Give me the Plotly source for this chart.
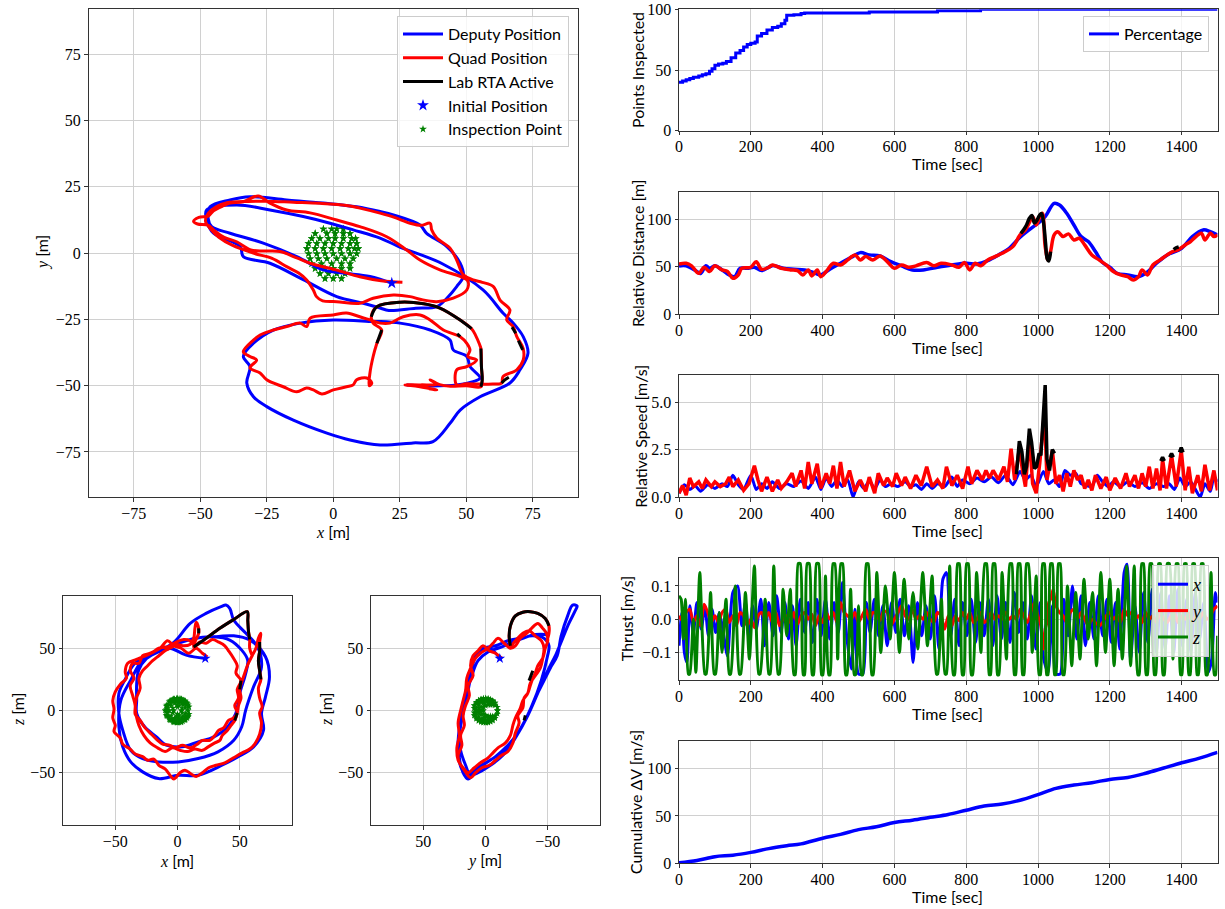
import plotly.graph_objects as go

# ---------------- x-y trajectories (main panel) ----------------
deputy_xy = [(22,-11.3),(13.8,-8.8),(3.8,-7.5),(-3.8,-6.3),(-13.7,-1.3),(-26.3,3.8),(-38.8,7.5),(-45.7,10),(-47,13),
    (-46.3,17.5),(-38.8,20.1),(-31.3,21.3),(-17.5,20.1),(-3.8,18.9),(8.8,17.5),(17.6,15.7),(22.6,14.4),(32.6,10.6),
    (35.1,7.5),(42.7,2.5),(47.7,-3.8),(48.9,-8.8),(46.4,-12.6),(42.7,-17),(38.9,-20.2),(31,-20.8),(20.9,-21.6),
    (17.6,-20.7),(11.3,-18.9),(1.3,-16.4),(-11.3,-10),(-23.8,-3.8),(-33.8,-1.3),(-35,2.5),(-45,7.5),(-47.6,12.5),
    (-47.6,16.3),(-36.3,18.2),(-23.8,16.3),(-11.3,13.8),(-1.2,11.3),(7.5,8.8),(17.6,5.7),(25,2.3),(41,-4),
    (56.3,-13.9),(63.8,-22.6),(67.6,-26.3),(71.4,-31.5),(73.2,-37.7),(70.2,-44),(66.4,-49),(55.2,-54.2),
    (47.7,-59.2),(43.9,-64.2),(37.5,-71.1),(30,-71.6),(17.6,-72.4),(6.3,-70.5),(-2.4,-67.9),(-15,-63),
    (-25,-57.9),(-30,-54.2),(-32.5,-49),(-31.3,-42.8),(-33.8,-39),(-30,-34),(-22.5,-29),(-12.5,-26.4),
    (0,-25.2),(15,-25.8),(17.6,-25.8),(25.1,-26.4),(36.4,-29),(43.9,-32.8),(45.1,-36.5),(50.2,-39),
    (51.4,-42.8),(55.2,-47.1),(52.6,-48.5),(46.4,-49.7),(37.5,-50.1),(27.6,-49.7)]

quad_xy = [(26,-11),(18,-10.4),(10,-8.9),(1,-6.3),(-8.7,-3.8),(-13.7,-1.8),(-20,0.6),(-26,0.8),(-31,1.2),
    (-36.3,4.3),(-41,6),(-45,8.8),(-47,10.5),(-51,11),(-52.5,12),(-50.5,13.5),(-47,14),(-45,16),(-41,18),
    (-38.8,18.9),(-33.8,19.4),(-28.2,21.6),(-23.8,18.9),(-17.5,16.3),(-8.7,15.2),(1.3,12.5),(10,10),(20.1,6.2),
    (27.6,1.2),(32.6,-2.6),(40.1,-6.3),(47.7,-8.8),(50.6,-10.5),(50.2,-13.9),(45.1,-17),(38.9,-18.3),(33,-17.5),
    (28.9,-16.4),(22.6,-15.8),(15,-17),(10,-18.9),(1.3,-18.3),(-4,-18),(-6.3,-16.4),(-7.5,-13.9),(-10,-10.1),
    (-13,-7.5),(-17.5,-5.1),(-23,-2),(-30,0),(-38,3),(-43,6),(-46,9),(-48,12),(-47,15),(-44,17.5),(-40,19),
    (-32,19.5),(-25,19.6),(-15,19.2),(-5,18.8),(5,18),(10,17),(17.6,15.1),(23,13.5),(28.9,11.3),(33,10.5),
    (36.4,11.3),(37,8.8),(38.9,5.7),(43.9,1.9),(46.4,-2.6),(48.9,-8.2),(52.6,-10.1),(56,-11),(60.2,-12.6),
    (62.7,-17.7),(66.4,-21.4),(65.2,-25.2),(67.6,-27.7),(69,-31.5),(71.4,-36),(71.4,-40.3),(69,-44),
    (63.8,-46.6),(63.3,-49),(60,-49.4),(55.2,-49.4),(50,-49.3),(46.4,-49.7),(46.4,-44),(50.2,-42.8),
    (53.9,-40.3),(50.6,-39),(51.4,-36.5),(50.2,-34),(47.7,-31.5),(41.4,-29),(36.4,-25.2),(32.6,-23.3),
    (26.3,-24),(21.3,-26.4),(17.6,-26.4),(13.8,-25.2),(10,-24),(5,-22.6),(0,-23.3),(-8.7,-24.5),(-10,-27.7),
    (-12.5,-26.4),(-17.5,-27.7),(-22.5,-29),(-27.5,-30.9),(-30,-32.8),(-33.8,-37.2),(-31.3,-39),(-28.8,-40.3),
    (-31.3,-43.3),(-27.5,-45.2),(-25,-47.8),(-18.8,-50.4),(-13.7,-52.3),(-10,-50.9),(-7.5,-51.6),(-4.3,-53.1),
    (0,-51.6),(5,-50.4),(7.5,-49.7),(8.8,-47.8),(12.6,-47.1),(14.5,-49),(13.5,-50),(13.8,-45.2),(15,-39),
    (16.4,-34),(18.2,-29),(15,-26.4),(14.3,-24),(16.4,-20.2),(25.1,-18.5),(34,-19.1),(40.1,-20.7),(47.7,-25.2),
    (52,-28.5),(53.5,-31),(54.9,-34.2),(55.5,-36),(55.7,-42.8),(56,-47.8),(55.5,-50.4),(50,-50),(44,-50.2),
    (40,-49.6),(36.4,-47.8),(39,-49.5),(33,-49.7),(27,-49.7),(30,-50),(38.9,-51.6),(36,-51.2)]

rta_xy = [(16.4,-34),(18.2,-29),None,(14.3,-24),(16.4,-20.2),(25.1,-18.5),(34,-19.1),(40.1,-20.7),(47.7,-25.2),
    (52,-28.5),None,(55.5,-36),(55.7,-42.8),(56,-47.8),(55.5,-50.4),None,(67.2,-27.9),(68.6,-30.2),None,
    (69.6,-33),(71.2,-36.5),None,(63.3,-49),(64.5,-47.8),(66,-46.8),None,(47.7,-31.5),(46.6,-30.4)]

# ---------------- x-z and y-z projections ----------------
deputy_xz = [(22.3,41.8),(7,44.5),(-5.7,49.9),(-15.3,47.2),(-24.8,41.8),(-31.2,32.4),(-32.8,21.7),(-32.8,8.3),
    (-32.8,-2.4),(-26.4,-13.1),(-16.9,-21.2),(-8.9,-27.9),(3.8,-29.2),(16.6,-25.2),(29.3,-21.2),(40.4,-13.1),
    (46.8,-2.4),(50,13.7),(54.8,29.8),(56.4,40.5),(51.6,48.5),(42,56.6),(29.3,59.2),(13.4,57.9),(0.6,53.9),
    (-12.1,49.9),(-24.8,43.2),(-34.4,37.8),(-42.4,24.4),(-47.1,13.7),(-47.1,-2.4),(-44,-15.8),(-37.6,-31.9),
    (-28,-38.6),(-15.3,-41.3),(0.6,-41.3),(16.6,-38.6),(32.5,-33.2),(45.2,-23.9),(51.6,-13.1),(54.8,0.3),
    (61.1,19),(67.5,35.1),(64.3,51.2),(55,62),(45.2,72.7),(42,82),(38.9,84.7),(35,83.4),(22.9,78),(10.2,70),
    (-2.5,55.2),(-15.3,47.2),(-28,40.5),(-37.6,24.4),(-45.5,8.3),(-47.1,-13.1),(-44,-29.2),(-37.6,-41.3),
    (-28,-49.3),(-15.3,-54.7),(0.6,-52),(16.6,-52),(35.7,-44),(48.4,-37.3),(61.1,-29.2),(69.1,-15.8),
    (67.5,-2.4),(70.7,11),(73.9,27.1),(70.7,43.2),(58,56.6),(45.2,60),(29,59)]

quad_xz = [(24,43),(20,46),(15,50),(9,46),(3,50),(-3,52),(-8,56),(-14,50),(-22,46),(-28,44),(-31,38),(-36,38),
    (-38,32),(-35,26),(-38,20),(-36,12),(-34,4),(-34,-3),(-30,-8),(-26,-14),(-21,-19),(-16,-24),(-12,-27),
    (-6,-28),(-2,-30),(4,-28),(10,-30),(16,-27),(20,-24),(26,-24),(30,-20),(33,-16),(37,-14),(41,-8),(45,-6),
    (48,-2),(46,4),(49,10),(48,17),(51,24),(47,30),(48,36),(45,42),(41,48),(38,52),(33,55),(28,57),(23,54),
    (18,55),(14,52),(10,56),(5,57),(-1,55),(-8,51),(-15,50),(-21,46),(-28,43),(-33,41),(-40,38),(-42,31),
    (-41,26),(-46,21),(-50,15),(-52,8),(-51,1),(-52,-6),(-50,-12),(-51,-17),(-46,-22),(-44,-27),(-38,-31),
    (-34,-35),(-28,-37),(-24,-40),(-19,-39),(-15,-44),(-10,-47),(-6,-52),(-3,-55),(2,-50),(6,-48),(11,-51),
    (15,-53),(20,-50),(25,-46),(31,-44),(38,-42),(45,-38),(52,-34),(58,-31),(62,-27),(66,-19),(67.5,-10),
    (66,-2),(68,3),(66,10),(65,18),(67,25),(66,32),(65,40),(66,48),(66,55),(67,62),(65,58),(63,50),(60,44),
    (57,38),(54,30),(52,24),(50,17),(51,10),(49,4),(48,-2),(46,-8),(43,-12),(40,-16),(36,-20),(34,-24),
    (30,-26),(25,-29),(20,-32),(14,-31),(8,-33),(2,-32),(-4,-30),(-10,-33),(-16,-30),(-22,-26),(-27,-20),
    (-31,-12),(-33,-5),(-34,2),(-33,10),(-30,18),(-31,26),(-28,32),(-24,36),(-20,40),(-15,44),(-10,48),
    (-6,50),(0,53),(5,52),(10,53),(13,58),(14,66),(15,71),(17,66),(17,62),(14,55),(13,51),(23,58),(34,66),
    (45,73),(56,79.4),(56.5,72),(57,64),(58,57),(58,50),(60,44)]

rta_xz = [(17,66),(17,62),None,(13,51),(23,58),(34,66),(45,73),(56,79.4),(56.5,72),(57,64),(58,57),None,
    (66,55),(66,48),(65,40),(66,32),(67,25),None,(51,24),(50,17),None,(48,-2),(46,-8)]

deputy_yz = [(-11.5,41.8),(-3.5,49.9),(2.9,48.5),(9.2,40.5),(12.4,24.4),(15.6,8.3),(20.4,-10.5),(22,-34.6),
    (18.8,-48),(14,-54.7),(9.2,-48),(-3.5,-40),(-16.2,-31.9),(-29,-13.1),(-36.9,2.9),(-44.9,24.4),(-49.7,43.2),
    (-51,52),(-47,58),(-38,60),(-28,58),(-18,56),(-8,52),(2,50),(8,44),(12,30),(16,14),(19,-2),(21,-18),
    (20,-32),(16,-44),(12,-52),(6,-50),(-4,-44),(-14,-36),(-24,-22),(-34,-4),(-42,14),(-50,32),(-57,46),
    (-62,58),(-67,70),(-72,80),(-73.6,84),(-70,84.7),(-66,76),(-60.8,60),(-57.6,44),(-52,34),(-46,22),
    (-40,10),(-33,-6),(-26,-18),(-18,-28),(-8,-37),(2,-44),(10,-52),(14,-55),(18,-50),(21,-38),(21,-20),
    (18,-2),(15,14),(11,28),(6,40),(-2,47),(-10,50),(-20,54),(-30,58),(-40,61),(-48,61),(-50,60)]

quad_yz = [(-13,42),(-8,46),(-3,48),(2,52),(6,48),(10,44),(12,36),(10,28),(14,20),(13,12),(16,4),(18,-4),
    (17,-12),(20,-20),(19,-28),(22,-36),(21,-42),(17,-48),(12,-54),(8,-50),(3,-46),(-3,-44),(-8,-40),
    (-13,-36),(-18,-33),(-22,-26),(-24,-18),(-27,-10),(-26,-4),(-30,2),(-31,10),(-34,14),(-36,20),(-38,26),
    (-40,30),(-42,36),(-46,42),(-48,50),(-50,56),(-49,62),(-46,66),(-42,70),(-37,66),(-33,62),(-28,58),
    (-24,52),(-20,50),(-15,54),(-10,58),(-6,54),(-2,50),(4,46),(8,42),(12,34),(15,26),(16,16),(18,8),(20,0),
    (22,-10),(21,-20),(23,-30),(22,-40),(18,-46),(14,-50),(9,-46),(4,-42),(-2,-38),(-6,-34),(-10,-30),
    (-16,-26),(-20,-20),(-22,-12),(-24,-6),(-28,2),(-30,8),(-34,14),(-36,22),(-40,28),(-44,34),(-46,42),
    (-47,50),(-45,56),(-40,60),(-35,64),(-30,62),(-24,56),(-20,52),(-19,60),(-20,68),(-24,76),(-30,79),
    (-36,79.4),(-42,78),(-48,74),(-51,68),(-51,62),(-49,55)]

rta_yz = [(-20,52),(-19,60),(-20,68),(-24,76),(-30,79),(-36,79.4),(-42,78),(-48,74),(-51,68),None,
    (-35,24),(-38,32),None,(-31,-8),(-32,-4)]

initial_xy = (22, -11.3)
initial_xz = (22.3, 41.8)
initial_yz = (-11.5, 41.8)

# inspection points (x, y, |z|)
insp_pts = [(-3.7,9.1,1.9),(-0.6,9.1,4.1),(1.3,9.1,3.9),(3.8,9.1,1.7),
    (-6.8,7.4,0),(-2.4,7.4,6.3),(0.7,7.4,6.7),(3.8,7.4,5.5),(6.3,7.4,2.3),
    (-8.1,5.5,2.1),(-5,5.5,6.7),(-1.8,5.5,8.2),(0.7,5.5,8.3),(3.8,5.5,7.5),(6.9,5.5,4.7),(8.4,5.5,0),
    (-9.3,3.6,0.7),(-6.2,3.6,7),(-3.1,3.6,8.8),(0,3.6,9.3),(3.1,3.6,8.8),(6.3,3.6,6.9),(8.8,3.6,3.1),
    (-9.9,1.7,0),(-6.8,1.7,7.1),(-3.7,1.7,9.1),(-0.6,1.7,9.8),(2.6,1.7,9.5),(5.7,1.7,8),(8,1.7,5.8),(9.4,1.7,2.9),
    (-9.3,-0.2,3.7),(-6.2,-0.2,7.8),(-3.1,-0.2,9.5),(0,-0.2,10),(3.1,-0.2,9.5),(6.3,-0.2,7.8),(8.8,-0.2,4.8),
    (-8.7,-2.1,4.5),(-5.6,-2.1,8),(-2.4,-2.1,9.5),(1.3,-2.1,9.7),(4.4,-2.1,8.7),(7.5,-2.1,6.3),
    (-8.1,-4,4.3),(-4.4,-4,8),(-0.6,-4,9.1),(3.1,-4,8.6),(6.3,-4,6.7),
    (-6.8,-5.8,4.5),(-3.1,-5.8,7.5),(0,-5.8,8.1),(3.1,-5.8,7.5),(6.3,-5.8,5.2),
    (-5,-7.7,4),(-1.8,-7.7,6.1),(1.3,-7.7,6.2),(4.4,-7.7,4.6),
    (-3.1,-9.6,0),(0,-9.6,2.8),(3.1,-9.6,0)]

# ---------------- time histories ----------------
pct_t = [0,10,20,30,40,55,65,75,85,92,100,110,122,132,145,158,170,180,190,200,212,218,230,245,260,275,285,295,300,320,340,350,530,720,840,1500]
pct_v = [40,41,42,43,44,45,46,47,49,51,54,55,55.5,57,60,64,66,69,71,72,73,78,80,83,85,86,88,91,95,95.5,96.5,97,97.8,98.9,100,100]

dep_dist_t = [0,20,50,60,75,85,100,120,140,155,170,190,210,230,260,290,320,350,380,395,420,450,480,505,530,560,590,620,650,680,720,760,800,830,860,890,920,950,975,1000,1020,1045,1060,1080,1100,1120,1140,1160,1180,1200,1220,1250,1280,1300,1330,1360,1400,1430,1460,1480,1500]
dep_dist_v = [50.9,51,45,43,51,48.4,51,46.7,41.4,39.6,48.4,48.4,49.5,46,51.2,48.4,47.4,46.7,43.2,41.4,47.4,53.7,60,64.9,62.5,61.4,55.4,50.9,46.7,46.7,49.5,51.9,53.7,53,56.5,62.5,69.5,81,88.8,95.8,102.8,116.8,115,106.3,94,81.8,76.5,66,54.4,49.5,43.2,41.4,39.6,43.2,53.7,62.5,69.5,81.8,88.8,87,83.5]

quad_dist_t = [0,20,35,55,70,85,100,120,135,150,165,175,200,215,230,250,260,285,310,330,345,360,370,385,395,410,430,450,470,490,505,520,540,560,580,600,620,640,660,690,710,730,760,780,795,810,825,840,860,880,900,930,950,965,975,985,995,1005,1012,1020,1028,1035,1045,1055,1070,1085,1100,1115,1130,1150,1170,1190,1210,1230,1250,1265,1280,1290,1305,1320,1340,1360,1375,1390,1410,1425,1440,1455,1465,1480,1490,1500]
quad_dist_v = [53,53.7,51,43.2,49.5,45,51,46.7,45,37.9,41.4,48.4,49.5,55.4,47.4,49.5,51.9,48.4,46.7,46,41.4,46.7,40.4,46.7,39.6,45,53.7,51.9,57.2,62.5,57.2,60.7,57.2,61.4,55.4,48.4,51.9,49.5,51,54.4,51,53.7,51.9,49.5,54.4,46.7,53.7,51,57.2,60.7,64.2,71.2,83.5,88.8,95.8,102.8,94,102.8,106.3,71,57.2,66,83.5,86.8,81.8,84.6,78.2,80,73,62.5,57.2,51.9,45,41.4,39.6,36.1,39.6,46.7,41.4,51.9,57.2,62.5,66,67.7,73,76.5,81.8,85.3,78.2,85.3,81.8,83.5]

rta_dist_t = [952,960,968,976,983,990,997,1004,1010,1016,1021,1026,1030,1035,None,1378,1385,1392]
rta_dist_v = [85,89,94,101,104,96,99,104,106,95,75,58,56,66,None,68,70,71]

dep_spd_t = [0,15,30,45,60,80,100,120,135,150,165,180,200,215,230,245,260,280,300,320,340,360,380,395,410,425,440,455,470,485,500,515,530,545,560,575,590,610,630,645,660,675,690,705,720,740,760,775,790,810,830,850,870,890,910,930,950,965,980,995,1015,1030,1045,1060,1075,1090,1105,1120,1135,1150,1165,1180,1195,1210,1230,1250,1270,1290,1310,1330,1350,1365,1380,1395,1410,1425,1440,1452,1465,1480,1490,1500]
dep_spd_v = [0.2,0.65,0.4,0.6,0.3,0.65,0.45,0.7,0.55,1.15,0.65,0.4,1.15,0.4,0.7,0.45,0.8,0.45,0.7,0.55,0.85,0.45,1.05,0.4,1.0,0.55,0.9,0.55,0.9,0.0,0.8,0.45,0.85,0.45,0.9,0.55,0.7,0.55,0.8,0.55,0.65,0.4,0.7,0.45,0.7,0.55,1.05,0.55,0.9,0.7,1.0,0.8,1.05,0.75,1.15,0.65,1.35,0.9,1.15,0.55,1.35,0.7,0.9,0.55,1.4,1.15,1.25,0.7,0.6,0.55,1.15,0.8,0.55,0.8,0.55,0.8,0.55,0.75,0.45,0.7,0.55,0.7,0.4,1.0,0.55,0.8,0.35,0.0,0.7,0.3,1.05,0.8]

quad_spd_t = [0,10,20,30,40,55,65,75,90,100,115,130,140,150,165,180,195,210,220,230,245,260,275,285,300,315,325,340,350,360,370,385,395,410,420,430,440,450,460,475,490,505,520,530,545,555,570,580,595,605,620,630,645,660,675,690,705,720,735,745,760,775,790,805,815,830,845,855,865,875,890,905,915,925,935,948,958,965,976,985,995,1005,1018,1025,1040,1050,1060,1070,1080,1090,1100,1110,1120,1130,1140,1150,1160,1175,1190,1200,1215,1230,1245,1255,1270,1280,1290,1300,1310,1320,1330,1340,1347,1358,1372,1385,1399,1410,1420,1430,1445,1455,1465,1478,1490,1500]
quad_spd_v = [0.2,0.6,0.1,1.0,0.55,0.8,0.45,0.9,0.55,0.8,0.55,0.7,1.05,0.55,0.9,0.35,0.7,1.65,0.9,0.3,1.05,0.3,0.9,0.45,0.8,1.25,0.55,1.4,0.45,1.85,0.7,1.75,0.45,1.25,0.7,1.65,0.45,1.85,0.55,1.4,0.3,0.9,0.3,1.05,0.2,1.25,0.6,1.0,0.55,1.25,0.6,1.05,0.45,1.15,0.6,1.6,0.55,0.9,0.45,1.6,0.6,1.15,0.45,1.6,0.7,1.4,0.9,1.4,1.0,1.4,0.9,1.6,0.8,2.55,0.9,2.55,1.25,0.55,3.2,0.7,0.2,1.8,4.5,0.9,2.45,0.7,1.15,0.3,1.25,0.55,1.4,0.9,1.15,0.45,0.9,0.35,1.15,0.45,1.05,0.35,1.0,0.45,1.25,0.55,1.15,0.45,1.25,0.55,1.6,0.45,1.5,0.35,2.0,0.45,2.2,0.55,2.45,0.35,1.6,0.2,1.15,0.3,1.7,0.35,1.4,0.35]

rta_spd_t = [940,948,955,962,968,976,982,990,996,1003,1008,1014,1020,1025,1032,1040,1046,None,1342,1347,1352,None,1367,1372,1377,None,1394,1399,1404]
rta_spd_v = [1.2,2.95,2.4,1.2,1.6,3.6,2.9,1.5,1.6,2.3,2.2,4.4,5.9,2.0,1.4,2.5,2.3,None,1.9,2.1,1.9,None,2.1,2.3,2.1,None,2.35,2.6,2.35]

thrust_x = [(0,-0.08),(8,0.02),(15,-0.1),(22,-0.13),(30,0.04),(40,-0.04),(50,0.05),(62,-0.03),(72,0.04),(82,-0.05),
    (92,0.03),(102,-0.04),(112,0.02),(122,-0.03),(135,-0.11),(150,0.08),(163,0.10),(175,-0.02),(185,0.05),(195,-0.06),
    (205,0.04),(215,-0.03),(228,0.06),(238,-0.08),(250,0.05),(262,-0.05),(272,0.07),(284,-0.04),(295,0.05),(305,-0.06),
    (316,0.04),(326,-0.08),(338,0.06),(350,-0.04),(360,0.05),(372,-0.07),(384,0.06),(396,-0.05),(408,0.06),(420,-0.06),
    (432,0.05),(444,-0.04),(455,0.11),(467,-0.05),(480,-0.15),(490,0.03),(500,-0.165),(512,-0.165),(522,0.05),(532,-0.04),
    (544,0.06),(556,-0.05),(568,0.04),(580,-0.08),(592,0.05),(604,-0.04),(616,0.06),(628,-0.05),(640,0.04),(652,-0.13),
    (664,0.05),(676,-0.05),(688,0.04),(700,-0.06),(712,0.07),(724,-0.09),(735,0.12),(745,0.14),(757,-0.05),(768,0.06),
    (780,-0.08),(790,0.05),(802,-0.05),(814,0.06),(826,-0.07),(838,0.05),(850,-0.05),(862,0.06),(874,-0.08),(886,0.07),
    (898,-0.06),(910,0.05),(922,-0.07),(934,0.08),(946,-0.04),(958,0.05),(970,-0.06),(982,0.07),(994,-0.09),(1006,0.05),
    (1016,-0.12),(1028,-0.16),(1040,0.04),(1050,-0.165),(1062,-0.165),(1072,0.06),(1084,-0.05),(1096,0.1),(1108,-0.06),
    (1120,0.07),(1132,-0.08),(1144,0.05),(1156,-0.06),(1168,0.07),(1180,-0.05),(1192,0.06),(1204,-0.07),(1216,0.05),
    (1228,-0.09),(1240,0.14),(1248,0.165),(1258,-0.12),(1270,0.04),(1282,-0.1),(1294,0.08),(1306,-0.07),(1318,0.09),
    (1330,-0.1),(1342,0.08),(1354,-0.09),(1366,0.07),(1378,-0.1),(1390,0.09),(1402,-0.08),(1414,0.06),(1426,-0.1),
    (1438,0.08),(1450,-0.06),(1462,0.05),(1474,-0.16),(1484,-0.12),(1494,0.08),(1500,0.05)]

thrust_y = [(0,0.01),(10,-0.005),(20,0.02),(30,0.03),(40,-0.01),(50,0.01),(60,-0.02),(70,0.045),(80,0.02),(90,-0.01),
    (100,0.01),(110,-0.01),(120,0.02),(130,0.03),(140,-0.01),(150,0.01),(160,-0.02),(170,0.02),(180,0.01),(190,-0.02),
    (200,0.0),(210,-0.025),(220,0.01),(230,0.02),(240,0.0),(250,0.02),(260,-0.01),(270,0.02),(280,-0.02),(290,0.0),
    (300,0.01),(310,-0.01),(320,0.02),(330,-0.015),(340,0.01),(350,0.02),(360,0.0),(370,0.015),(380,-0.02),(390,0.01),
    (400,-0.01),(410,0.02),(420,0.0),(430,0.02),(440,-0.01),(450,0.05),(460,0.02),(470,0.01),(480,0.0),(490,0.02),
    (500,-0.01),(510,0.01),(520,0.03),(530,0.0),(540,0.02),(550,0.015),(560,-0.005),(570,0.025),(580,0.02),(590,-0.02),
    (600,0.0),(610,0.02),(620,0.04),(630,0.01),(640,0.0),(650,0.03),(660,0.0),(670,0.01),(680,0.0),(690,0.02),
    (700,0.0),(710,-0.01),(720,0.02),(730,0.01),(740,-0.03),(750,0.01),(760,-0.02),(770,0.01),(780,-0.005),(790,0.02),
    (800,0.0),(810,0.02),(820,-0.01),(830,0.0),(840,0.02),(850,-0.01),(860,0.0),(870,0.02),(880,0.0),(890,0.01),
    (900,0.0),(910,0.02),(920,0.0),(930,0.01),(940,0.0),(950,0.03),(960,0.01),(970,-0.01),(980,0.02),(990,0.05),
    (1000,0.01),(1008,-0.02),(1015,-0.09),(1020,-0.03),(1025,-0.01),(1030,0.05),(1035,0.06),(1042,0.09),(1050,0.04),
    (1060,0.02),(1070,0.01),(1080,-0.01),(1090,0.02),(1100,0.03),(1110,0.0),(1120,0.02),(1130,0.0),(1140,-0.02),
    (1150,0.0),(1160,-0.01),(1170,-0.02),(1180,-0.01),(1190,0.01),(1200,0.02),(1210,0.0),(1220,0.01),(1230,-0.01),
    (1240,0.03),(1250,0.01),(1260,0.02),(1270,0.0),(1280,0.01),(1290,-0.01),(1300,0.02),(1310,0.0),(1320,0.01),
    (1330,-0.01),(1340,0.02),(1350,0.0),(1360,-0.01),(1370,0.01),(1380,0.02),(1390,-0.01),(1400,0.01),(1410,0.0),
    (1420,0.02),(1430,-0.01),(1440,0.01),(1450,0.0),(1460,0.02),(1470,0.0),(1480,0.01),(1490,0.03),(1500,0.04)]

thrust_z = [(0,0.07),(6,0.06),(12,-0.06),(18,0.06),(26,-0.165),(30,-0.165),(40,0.0),(47,-0.16),(58,0.14),(72,-0.165),
    (76,-0.165),(88,0.08),(98,-0.165),(102,-0.165),(112,0.02),(120,-0.1),(131,0.06),(140,-0.165),(144,-0.165),(157,0.10),
    (168,-0.165),(172,-0.165),(185,0.08),(196,-0.12),(210,0.16),(222,-0.165),(226,-0.165),(240,0.06),(250,-0.165),
    (254,-0.165),(264,0.16),(276,-0.165),(280,-0.165),(290,0.09),(300,-0.05),(310,0.09),(320,-0.167),(324,-0.167),
    (332,0.167),(338,0.167),(346,-0.167),(350,-0.167),(357,0.167),(363,0.167),(371,-0.167),(375,-0.167),(383,0.167),
    (389,0.167),(397,-0.167),(401,-0.167),(408,0.13),(417,-0.167),(421,-0.167),(429,0.167),(434,0.167),(442,-0.12),
    (451,0.167),(456,0.167),(464,-0.167),(468,-0.167),(478,0.09),(488,-0.167),(492,-0.167),(500,0.04),(508,-0.167),
    (512,-0.167),(522,0.167),(527,0.167),(537,-0.167),(541,-0.167),(551,0.14),(562,-0.10),(575,0.10),(588,-0.06),
    (600,0.14),(614,-0.10),(627,0.12),(640,-0.06),(652,0.08),(665,-0.09),(679,0.14),(692,-0.08),(705,0.13),
    (717,-0.165),(721,-0.165),(731,0.06),(741,-0.165),(745,-0.165),(754,0.16),(764,-0.167),(768,-0.167),(776,0.167),
    (781,0.167),(789,-0.167),(793,-0.167),(801,0.167),(806,0.167),(814,-0.167),(818,-0.167),(829,0.14),(841,-0.10),
    (852,0.167),(857,0.167),(864,-0.167),(868,-0.167),(875,0.167),(880,0.167),(887,-0.167),(891,-0.167),(900,0.14),
    (912,-0.12),(922,0.167),(927,0.167),(934,-0.167),(938,-0.167),(945,0.167),(950,0.167),(957,-0.167),(961,-0.167),
    (968,0.167),(973,0.167),(984,-0.10),(995,0.13),(1003,-0.167),(1007,-0.167),(1013,0.167),(1018,0.167),
    (1024,-0.167),(1028,-0.167),(1035,0.167),(1040,0.167),(1046,-0.167),(1050,-0.167),(1057,0.167),(1062,0.167),
    (1069,-0.167),(1073,-0.167),(1082,0.10),(1094,-0.14),(1105,0.08),(1117,-0.12),(1128,0.12),(1140,-0.06),
    (1152,0.08),(1163,-0.14),(1175,0.14),(1188,-0.10),(1200,0.12),(1212,-0.14),(1223,0.09),(1235,-0.12),(1247,0.16),
    (1258,-0.14),(1268,0.16),(1278,-0.167),(1282,-0.167),(1289,0.167),(1294,0.167),(1301,-0.167),(1305,-0.167),
    (1312,0.167),(1317,0.167),(1324,-0.167),(1328,-0.167),(1336,0.167),(1341,0.167),(1348,-0.167),(1352,-0.167),
    (1360,0.167),(1366,0.167),(1376,-0.12),(1385,0.167),(1390,0.167),(1397,-0.167),(1401,-0.167),(1408,0.167),
    (1413,0.167),(1420,-0.167),(1424,-0.167),(1431,0.167),(1436,0.167),(1443,-0.167),(1447,-0.167),(1455,0.167),
    (1460,0.167),(1468,-0.167),(1472,-0.167),(1482,0.14),(1491,-0.167),(1495,-0.167),(1500,-0.05)]

dv_t = [0,50,100,150,200,250,300,340,400,450,500,550,600,650,700,750,800,850,900,950,1000,1050,1100,1150,1200,1250,1300,1350,1400,1450,1500]
dv_v = [0.5,3,7,8.5,11.5,15.5,18.5,20.5,26.5,30.5,35.5,38.5,43,45.5,48.5,51.5,56,60.5,62.5,66.5,72.5,79,82.5,85,88.5,90.5,95,100.5,106,111,117]

# ---------------- helpers ----------------
BLUE, RED, BLACK, GREEN = "#0000ff", "#ff0000", "#000000", "#008000"
SANS = "Lato"
SERIF = "Liberation Serif"
MINUS = "\u2212"


def xs(pts, i):
    return [None if p is None else p[i] for p in pts]


def lab(v, fmt="{:g}"):
    return fmt.format(v).replace("-", MINUS)


fig = go.Figure()


def line(x, y, color, width, ax, name=None, legend=None, show=False, rank=None, shape="linear", smooth=1.0):
    ln = dict(color=color, width=width, shape=shape)
    if shape == "spline":
        ln["smoothing"] = smooth
    fig.add_trace(go.Scatter(x=x, y=y, mode="lines", line=ln,
                             xaxis="x" + ax, yaxis="y" + ax, name=name, showlegend=show,
                             legend=legend, legendrank=rank, hoverinfo="skip", connectgaps=False))


# inspection points first (under trajectories)
ins_x = [p[0] for p in insp_pts] * 2
ins_y = [p[1] for p in insp_pts] * 2
ins_z = [p[2] for p in insp_pts] + [-p[2] for p in insp_pts]
for ax, X, Y, sz in (("", ins_x, ins_y, 6), ("2", ins_x, ins_z, 5), ("3", ins_y, ins_z, 5)):
    fig.add_trace(go.Scatter(x=X, y=Y, mode="markers", xaxis="x" + ax, yaxis="y" + ax,
                             marker=dict(symbol="star", size=sz, color=GREEN, line=dict(width=0)),
                             name="Inspection Point", showlegend=(ax == ""), legend="legend", legendrank=5,
                             hoverinfo="skip"))

# main x-y
line(xs(deputy_xy, 0), xs(deputy_xy, 1), BLUE, 3, "", "Deputy Position", "legend", True, 1, "spline")
line(xs(quad_xy, 0), xs(quad_xy, 1), RED, 3, "", "Quad Position", "legend", True, 2, "spline")
line(xs(rta_xy, 0), xs(rta_xy, 1), BLACK, 3, "", "Lab RTA Active", "legend", True, 3, "spline")
fig.add_trace(go.Scatter(x=[initial_xy[0]], y=[initial_xy[1]], mode="markers", xaxis="x", yaxis="y",
                         marker=dict(symbol="star", size=9, color=BLUE, line=dict(width=0)),
                         name="Initial Position", showlegend=True, legend="legend", legendrank=4, hoverinfo="skip"))

# x-z
line(xs(deputy_xz, 0), xs(deputy_xz, 1), BLUE, 3, "2", shape="spline")
line(xs(quad_xz, 0), xs(quad_xz, 1), RED, 3, "2", shape="spline")
line(xs(rta_xz, 0), xs(rta_xz, 1), BLACK, 3, "2", shape="spline")
fig.add_trace(go.Scatter(x=[initial_xz[0]], y=[initial_xz[1]], mode="markers", xaxis="x2", yaxis="y2",
                         marker=dict(symbol="star", size=8, color=BLUE), showlegend=False, hoverinfo="skip"))
# y-z
line(xs(deputy_yz, 0), xs(deputy_yz, 1), BLUE, 3, "3", shape="spline")
line(xs(quad_yz, 0), xs(quad_yz, 1), RED, 3, "3", shape="spline")
line(xs(rta_yz, 0), xs(rta_yz, 1), BLACK, 3, "3", shape="spline")
fig.add_trace(go.Scatter(x=[initial_yz[0]], y=[initial_yz[1]], mode="markers", xaxis="x3", yaxis="y3",
                         marker=dict(symbol="star", size=8, color=BLUE), showlegend=False, hoverinfo="skip"))

# percentage
line(pct_t, pct_v, BLUE, 3, "4", "Percentage", "legend2", True, 1, "hv")
# relative distance
line(dep_dist_t, dep_dist_v, BLUE, 3.5, "5", shape="spline")
line(quad_dist_t, quad_dist_v, RED, 3.5, "5", shape="spline")
line(rta_dist_t, rta_dist_v, BLACK, 3.5, "5", shape="spline")
# relative speed
line(dep_spd_t, dep_spd_v, BLUE, 3, "6", shape="spline", smooth=0.6)
line(quad_spd_t, quad_spd_v, RED, 3.5, "6")
line(rta_spd_t, rta_spd_v, BLACK, 3.5, "6")
# thrust
line(xs(thrust_x, 0), xs(thrust_x, 1), BLUE, 3, "7", "<i>x</i>", "legend3", True, 1, "spline", 0.7)
line(xs(thrust_y, 0), xs(thrust_y, 1), RED, 3, "7", "<i>y</i>", "legend3", True, 2, "spline", 0.7)
line(xs(thrust_z, 0), xs(thrust_z, 1), GREEN, 3, "7", "<i>z</i>", "legend3", True, 3, "spline", 0.6)
# cumulative delta-v
line(dv_t, dv_v, BLUE, 3.5, "8", shape="spline")

# ---------------- axes ----------------
W, H = 1225, 909


def dx(a, b):
    return [a / W, b / W]


def dy(top, bottom):
    return [1 - bottom / H, 1 - top / H]


def axis(domain, rng, vals, texts, anchor, standoff=0):
    return dict(domain=domain, range=rng, tickvals=vals, ticktext=texts, anchor=anchor,
                showgrid=True, gridcolor="#d0d0d0", gridwidth=1, zeroline=False,
                showline=True, linecolor="#333333", linewidth=1, mirror=True,
                ticks="outside", ticklen=3.5, tickwidth=1, tickcolor="#333333",
                ticklabelstandoff=standoff,
                tickfont=dict(family=SERIF, size=16, color="black"), fixedrange=True)


big = [-75, -50, -25, 0, 25, 50, 75]
small = [-50, 0, 50]
tvals = [0, 200, 400, 600, 800, 1000, 1200, 1400]
tlabs = [str(v) for v in tvals]

RX = dx(679, 1217.5)
panels = [(9.3, 130.7), (191.7, 314.3), (374.7, 497), (558.3, 680), (741, 863.3)]

layout = dict(
    width=W, height=H, margin=dict(l=0, r=0, t=0, b=0, autoexpand=False), autosize=False,
    paper_bgcolor="white", plot_bgcolor="white", showlegend=True,
    xaxis=axis(dx(88.5, 578), [-92, 92], big, [lab(v) for v in big], "y", -2),
    yaxis=axis(dy(9.3, 497), [-92, 92], big, [lab(v) for v in big], "x"),
    xaxis2=axis(dx(63, 292), [-92, 92], small, [lab(v) for v in small], "y2", -2),
    yaxis2=axis(dy(596, 825), [-92, 92], small, [lab(v) for v in small], "x2"),
    xaxis3=axis(dx(371, 600), [92, -92], small, [lab(v) for v in small], "y3", -2),
    yaxis3=axis(dy(596, 825), [-92, 92], small, [lab(v) for v in small], "x3"),
)
yspecs = [
    ([0, 100], [0, 50, 100], ["0", "50", "100"]),
    ([0, 129], [0, 50, 100], ["0", "50", "100"]),
    ([0, 6.45], [0, 2.5, 5], ["0.0", "2.5", "5.0"]),
    ([-0.183, 0.183], [-0.1, 0, 0.1], [MINUS + "0.1", "0.0", "0.1"]),
    ([0, 129], [0, 50, 100], ["0", "50", "100"]),
]
for k, ((top, bot), (rng, vals, texts)) in enumerate(zip(panels, yspecs)):
    n = str(k + 4)
    layout["xaxis" + n] = axis(RX, [0, 1500], tvals, tlabs, "y" + n, -2)
    layout["yaxis" + n] = axis(dy(top, bot), rng, vals, texts, "x" + n)

legend_common = dict(bgcolor="rgba(255,255,255,0.8)", bordercolor="#cccccc", borderwidth=1,
                     xanchor="right", yanchor="top", tracegroupgap=0)
layout["legend"] = dict(x=569 / W, y=1 - 16 / H, font=dict(family=SANS, size=16, color="black"),
                        itemwidth=40, **legend_common)
layout["legend2"] = dict(x=1209 / W, y=1 - 16 / H, font=dict(family=SANS, size=16, color="black"),
                         **legend_common)
layout["legend3"] = dict(x=1209 / W, y=1 - 565 / H, font=dict(family=SERIF, size=18, color="black"),
                         **legend_common)
fig.update_layout(**layout)


# ---------------- axis titles ----------------
def it(ch):
    return '<span style="font-family:Liberation Serif"><i>%s</i></span> [m]' % ch


def title(text, x, y, angle=0):
    fig.add_annotation(text=text, x=x / W, y=1 - y / H, xref="paper", yref="paper", showarrow=False,
                       textangle=angle, xanchor="center", yanchor="middle",
                       font=dict(family=SANS, size=16, color="black"))


title(it("x"), 333, 531)
title(it("y"), 42, 253, -90)
title(it("x"), 177, 860)
title(it("z"), 17, 710, -90)
title(it("y"), 485, 860)
title(it("z"), 325, 710, -90)
ylabels = ["Points Inspected", "Relative Distance [m]", "Relative Speed [m/s]", "Thrust [m/s]",
           "Cumulative \u0394V [m/s]"]
yl_x = [637, 637, 641, 626, 635]
for (top, bot), lbl, lx in zip(panels, ylabels, yl_x):
    title("Time [sec]", 948, bot + 33)
    title(lbl, lx, (top + bot) / 2, -90)

fig.write_html("out.html", config={"responsive": False},
               post_script="document.body.style.margin='0';document.body.style.padding='0';"
                           "document.documentElement.style.overflow='hidden';")
